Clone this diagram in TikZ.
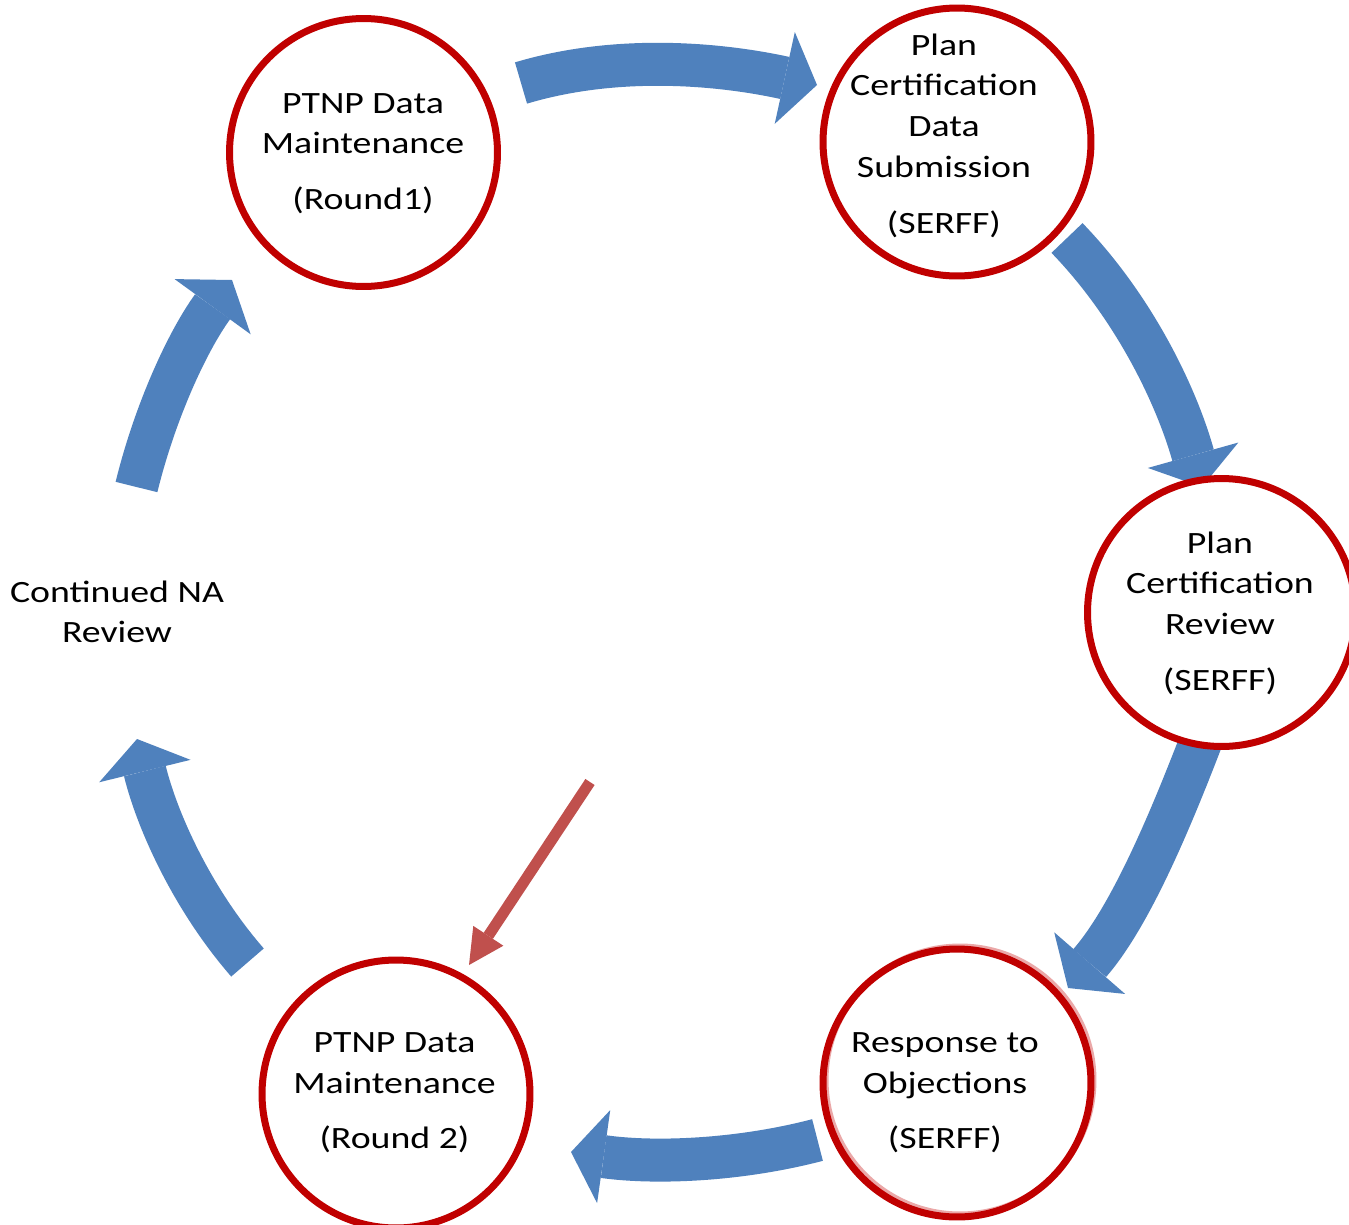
\documentclass[tikz,border=0pt]{standalone}
\usepackage{fontspec}
\setmainfont{Carlito}[FakeStretch=1.22]
\usetikzlibrary{arrows.meta}
\definecolor{arrowblue}{HTML}{4F81BD}
\definecolor{ringred}{HTML}{C00000}
\definecolor{pointred}{HTML}{C0504D}
\definecolor{halopink}{HTML}{EBA8A8}
\begin{document}
\begin{tikzpicture}[x=0.02cm,y=-0.02cm,
  bigarrow/.style={draw=arrowblue, line width=0.86cm,
    -{Triangle[width=1.88cm,length=0.66cm,line width=0pt]}},
  redarrow/.style={draw=pointred, line width=0.22cm,
    -{Triangle[width=0.72cm,length=0.70cm,line width=0pt]}},
  ring/.style={circle, draw=ringred, line width=0.14cm, fill=white,
    minimum size=5.36cm, inner sep=0pt},
  lbl/.style={anchor=base, inner sep=0pt, text=black,
    font=\fontsize{0.62cm}{0.82cm}\selectfont}]
\fill[white] (0,0) rectangle (1349,1224);
\useasboundingbox (0,0) rectangle (1349,1224);

% arrow end points
\coordinate (a1s) at (521,83);     \coordinate (a1e) at (817,85);
\coordinate (a2s) at (1067,238);   \coordinate (a2e) at (1202,487);
\coordinate (a3s) at (1201,741);   \coordinate (a3e) at (1068,988);
\coordinate (a4s) at (817.5,1140); \coordinate (a4e) at (571,1152);
\coordinate (a5s) at (247.5,962.5);\coordinate (a5e) at (137,739);
\coordinate (a6s) at (136.5,487);  \coordinate (a6e) at (232,280);
\coordinate (rtail) at (590,782);  \coordinate (rtip) at (469,965);
\coordinate (haloc) at (960,1080);

% blue block arrows
\draw[bigarrow] (a1s) .. controls (616.8,54.3) and (719.3,63.6) .. (a1e);
\draw[bigarrow] (a2s) .. controls (1133.7,307) and (1176.1,394.8) .. (a2e);
\draw[bigarrow] (a3s) .. controls (1166,832) and (1128,919) .. (a3e);
\draw[bigarrow] (a4s) .. controls (737.2,1161) and (653.2,1163.6) .. (a4e);
\draw[bigarrow] (a5s) .. controls (192.2,899) and (157.1,820.8) .. (a5e);
\draw[bigarrow] (a6s) .. controls (154.7,412.6) and (187,342) .. (a6e);

% red pointer
\draw[redarrow] (rtail) -- (rtip);

% circles
\node[ring] (c1) at (363.5,152.5) {};
\node[ring] (c2) at (957,142) {};
\node[ring] (c3) at (1221.5,612.5) {};
\node[ring, draw=none] (c4) at (957,1083) {};
\draw[halopink, line width=0.10cm] (haloc) circle[radius=2.68cm];
\draw[ringred, line width=0.14cm] (c4.center) circle[radius=2.68cm];
\node[ring] (c5) at (396,1094) {};

% texts
\node[lbl] (t1) at (363,113) {\begin{tabular}[t]{@{}c@{}}PTNP Data\\Maintenance\\[0.29cm](Round1)\end{tabular}};
\node[lbl] (t2) at (944,55) {\begin{tabular}[t]{@{}c@{}}Plan\\Certification\\Data\\Submission\\[0.29cm](SERFF)\end{tabular}};
\node[lbl] (t3) at (1220,553) {\begin{tabular}[t]{@{}c@{}}Plan\\Certification\\Review\\[0.29cm](SERFF)\end{tabular}};
\node[lbl] (t4) at (945,1052) {\begin{tabular}[t]{@{}c@{}}Response to\\Objections\\[0.29cm](SERFF)\end{tabular}};
\node[lbl] (t5) at (394.5,1052) {\begin{tabular}[t]{@{}c@{}}PTNP Data\\Maintenance\\[0.29cm](Round 2)\end{tabular}};
\node[lbl] (t6) at (117,602) {\begin{tabular}[t]{@{}c@{}}Continued NA\\Review\end{tabular}};
\end{tikzpicture}
\end{document}
